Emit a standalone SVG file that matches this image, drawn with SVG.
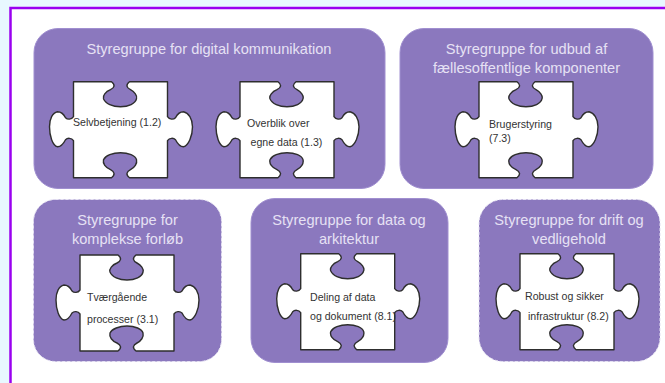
<svg xmlns="http://www.w3.org/2000/svg" width="665" height="383" viewBox="0 0 665 383">
<style>
.g{fill:#8b78be;stroke:#a08fd0;stroke-width:1}
.d{stroke:#e4e0f2;stroke-dasharray:3 2}
.p{fill:#fff;stroke:#2e2e2e;stroke-width:1.4;stroke-linejoin:round}
text{font-family:"Liberation Sans",Arial,sans-serif}
.t{font-size:14.6px;fill:#e6e1f4;text-anchor:middle}
.l{font-size:10.6px;fill:#333}
</style>
<defs>
<path id="pz" d="M0 0H38C42 3 41 6 37 8C32 10 29 14 30 17C32 22 39 25 47 25C55 25 62 22 63 17C64 14 61 10 57 8C53 6 52 3 56 0H94V35C96 38 100 38 102 36C104 32 106 30 110 30C115 31 119 37 119 45C119 54 115 64 110 65C106 65 104 62 102 58C100 56 96 56 94 59V96H56C52 93 53 90 57 88C61 86 64 82 63 78C62 74 55 71 47 71C39 71 32 74 30 78C29 82 32 86 37 88C41 90 42 93 38 96H0V59C-2 56 -6 56 -8 58C-10 62 -12 65 -16 65C-21 64 -24 54 -24 45C-24 37 -21 31 -16 30C-12 30 -10 32 -8 36C-6 38 -2 38 0 35Z"/>
</defs>
<rect width="665" height="383" fill="#e8f8ff"/>
<rect x="10.500" y="8" width="670" height="390" fill="#fff" stroke="#9a00f0" stroke-width="2.500"/>
<g id="connectors"></g>
<g id="node-digital">
<rect class="g" x="34" y="28.500" width="351" height="160" rx="24"/>
<text class="t" x="209" y="54">Styregruppe for digital kommunikation</text>
<use href="#pz" class="p" x="73.500" y="81.700"/>
<text class="l" x="73" y="126">Selvbetjening (1.2)</text>
<use href="#pz" class="p" x="240" y="81.700"/>
<text class="l" x="247" y="127">Overblik over</text>
<text class="l" x="250.500" y="146">egne data (1.3)</text>
</g>
<g id="node-udbud">
<rect class="g" x="400" y="28.500" width="253" height="160" rx="24"/>
<text class="t" x="526.500" y="54">Styregruppe for udbud af</text>
<text class="t" x="526.500" y="73">fællesoffentlige komponenter</text>
<use href="#pz" class="p" x="479" y="81.700"/>
<text class="l" x="489" y="128">Brugerstyring</text>
<text class="l" x="489" y="142">(7.3)</text>
</g>
<g id="node-forloeb">
<rect class="g d" x="33.500" y="199.500" width="188" height="162" rx="22"/>
<text class="t" x="127.500" y="225">Styregruppe for</text>
<text class="t" x="127.500" y="244">komplekse forløb</text>
<use href="#pz" class="p" x="80" y="255"/>
<text class="l" x="87" y="301">Tværgående</text>
<text class="l" x="87" y="323">processer (3.1)</text>
</g>
<g id="node-data">
<rect class="g" x="251" y="198.500" width="197" height="164" rx="24"/>
<text class="t" x="349" y="225">Styregruppe for data og</text>
<text class="t" x="349" y="244">arkitektur</text>
<use href="#pz" class="p" x="300.700" y="253.700"/>
<text class="l" x="310" y="301">Deling af data</text>
<text class="l" x="310" y="320">og dokument (8.1)</text>
</g>
<g id="node-drift">
<rect class="g d" x="479" y="199.500" width="181" height="162" rx="24"/>
<text class="t" x="569" y="225">Styregruppe for drift og</text>
<text class="t" x="569" y="244">vedligehold</text>
<use href="#pz" class="p" x="520" y="253.700"/>
<text class="l" x="525" y="300">Robust og sikker</text>
<text class="l" x="528" y="320">infrastruktur (8.2)</text>
</g>
</svg>
